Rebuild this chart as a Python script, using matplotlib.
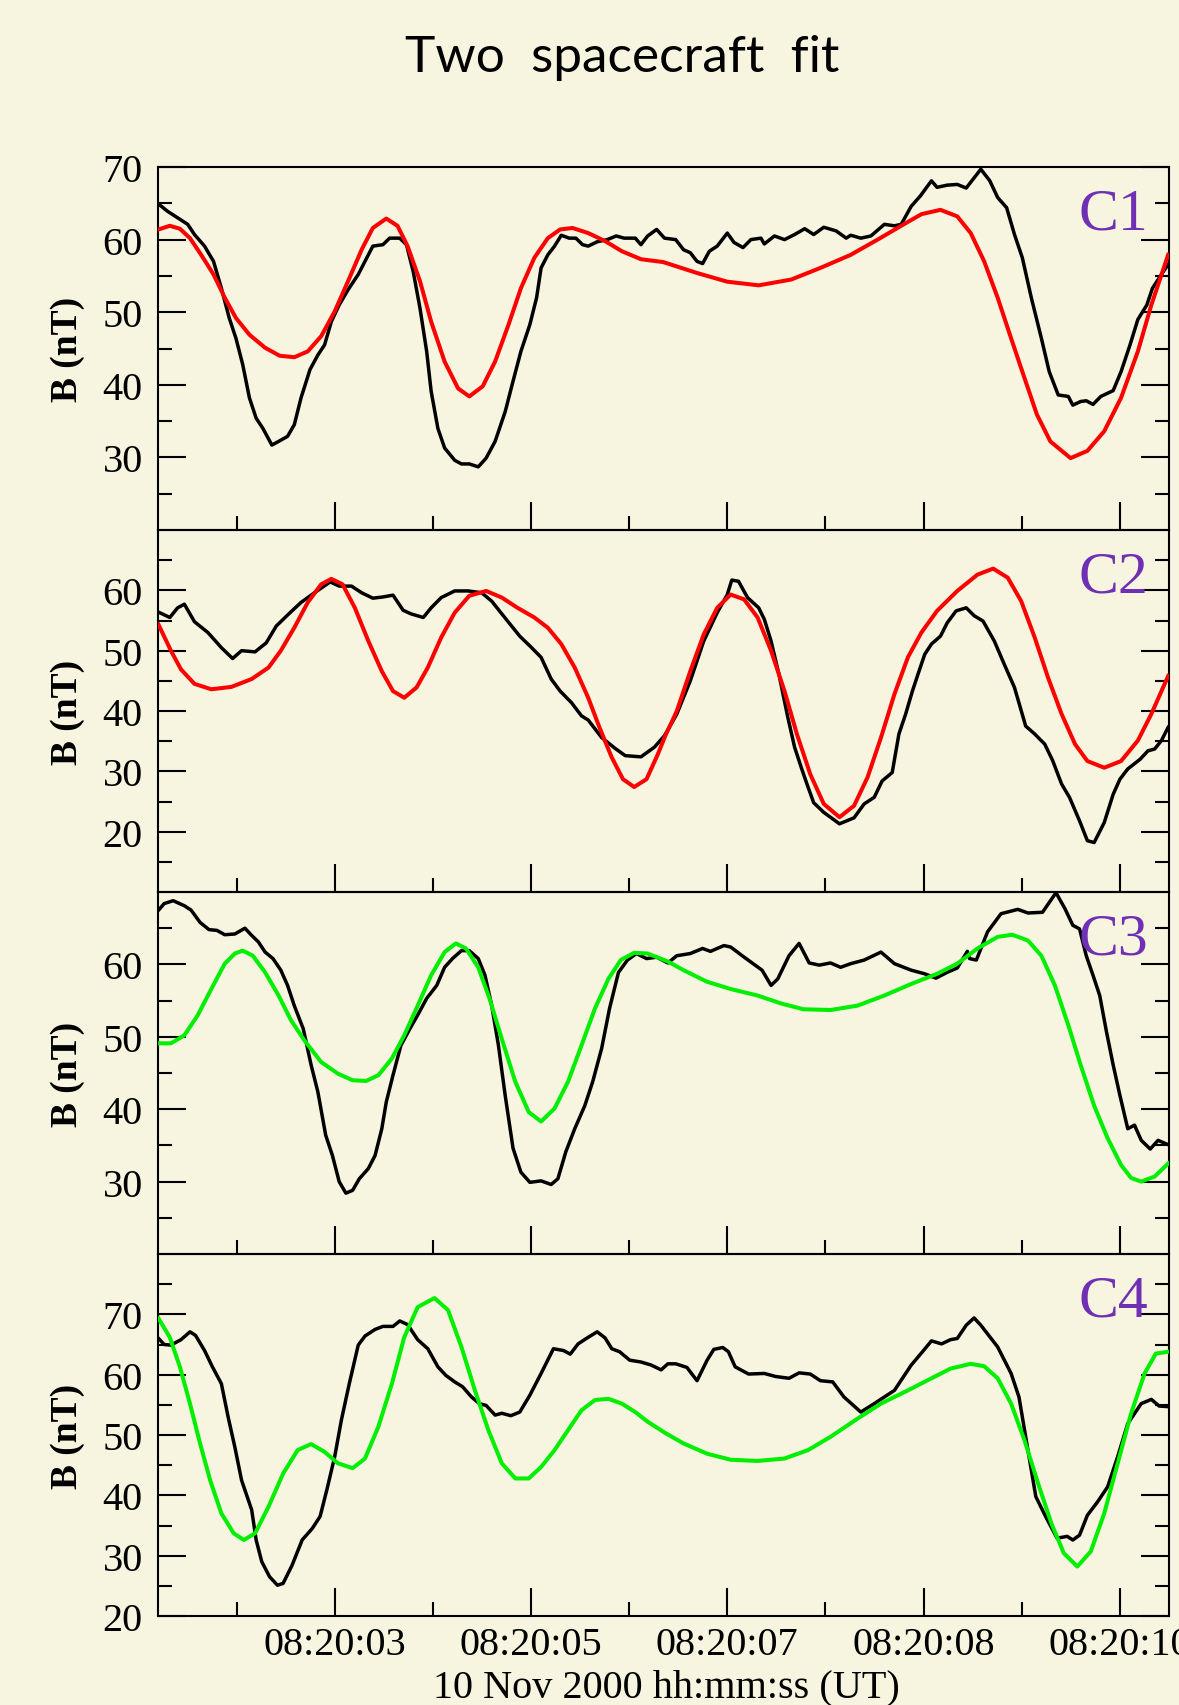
# -*- coding:utf-8 -*-
import numpy as np
import matplotlib
matplotlib.use('Agg')
import matplotlib.pyplot as plt

plt.rcParams['font.family'] = ['Liberation Serif', 'DejaVu Serif']

# 时间轴 (秒, 08:20:xx)
xticks_major = [3.0, 4.75, 6.5, 8.25, 10.0]
xticks_minor = [2.125, 3.875, 5.625, 7.375, 9.125]
xtick_labels = ['08:20:03', '08:20:05', '08:20:07', '08:20:08', '08:20:10']
panel_names = ['C1', 'C2', 'C3', 'C4']

# C1 observed
c1_t = [1.43, 1.51, 1.60, 1.69, 1.75, 1.84, 1.92, 1.99, 2.06, 2.12, 2.18, 2.24, 2.30, 2.36, 2.44, 2.50, 2.58,
        2.64, 2.70, 2.78, 2.85, 2.91, 2.97, 3.04, 3.12, 3.21, 3.28, 3.34, 3.43, 3.49, 3.58, 3.64, 3.70, 3.76,
        3.82, 3.86, 3.92, 3.98, 4.07, 4.13, 4.20, 4.28, 4.35, 4.43, 4.52, 4.59, 4.66, 4.74, 4.80, 4.84, 4.90,
        4.96, 5.02, 5.09, 5.15, 5.21, 5.26, 5.34, 5.43, 5.51, 5.58, 5.68, 5.73, 5.79, 5.87, 5.94,
        6.04, 6.11, 6.17, 6.23, 6.28, 6.34, 6.41, 6.50, 6.56, 6.64, 6.71, 6.80, 6.83, 6.92, 7.01, 7.10, 7.19,
        7.27, 7.36, 7.47, 7.56, 7.60, 7.69, 7.78, 7.90, 7.99, 8.05, 8.14, 8.22, 8.32, 8.37, 8.46, 8.55, 8.63,
        8.76, 8.84, 8.91, 8.99, 9.06, 9.13, 9.21, 9.30, 9.37, 9.45, 9.54, 9.58, 9.65, 9.70, 9.76, 9.83, 9.94,
        10.01, 10.09, 10.16, 10.24, 10.29, 10.37, 10.44]
c1_b = [64.9, 63.9, 63.0, 62.1, 60.7, 59.1, 57.0, 53.3, 49.2, 46.4, 42.8, 38.2, 35.4, 34.0, 31.7, 32.2, 32.9,
        34.5, 38.2, 42.1, 44.1, 45.5, 48.7, 51.0, 53.1, 55.2, 57.3, 59.1, 59.3, 60.2, 60.2, 59.3, 55.6, 50.6,
        44.6, 39.1, 34.0, 31.3, 29.6, 29.1, 29.1, 28.7, 29.9, 32.2, 36.3, 40.5, 44.6, 48.3, 52.0, 56.1, 57.9,
        59.1, 60.6, 60.2, 60.2, 59.3, 59.1, 59.7, 60.0, 60.5, 60.2, 60.2, 59.3, 60.5, 61.4, 60.2,
        60.0, 58.6, 58.2, 57.0, 56.7, 58.4, 59.1, 60.9, 59.6, 58.9, 60.0, 60.2, 59.4, 60.5, 60.0, 60.7, 61.5,
        60.7, 61.7, 61.2, 60.2, 60.6, 60.2, 60.5, 62.1, 61.9, 62.1, 64.6, 66.0, 68.1, 67.2, 67.5, 67.6, 67.1,
        69.7, 68.1, 65.8, 64.4, 60.7, 57.5, 52.0, 46.4, 41.8, 38.6, 38.4, 37.2, 37.7, 37.8, 37.3, 38.4, 39.2,
        41.8, 45.5, 49.0, 51.0, 53.3, 55.2, 56.8]
# C1 fit
c1_ft = [1.43, 1.53, 1.62, 1.71, 1.81, 1.92, 2.02, 2.12, 2.24, 2.38, 2.51, 2.64, 2.76, 2.88, 3.00, 3.12, 3.24,
         3.34, 3.46, 3.56, 3.65, 3.76, 3.86, 3.98, 4.10, 4.20, 4.32, 4.43, 4.55, 4.66, 4.78, 4.90, 5.01, 5.12,
         5.26, 5.41, 5.56, 5.73, 5.93, 6.23, 6.50, 6.78, 7.07, 7.33, 7.60, 7.84, 8.05, 8.23, 8.40, 8.55, 8.67,
         8.79, 8.91, 9.03, 9.15, 9.26, 9.38, 9.56, 9.71, 9.86, 10.01, 10.16, 10.28, 10.43]
c1_fit = [61.4, 61.9, 61.5, 60.2, 57.9, 55.2, 52.0, 49.2, 46.9, 45.1, 44.0, 43.8, 44.6, 46.7, 50.1, 54.3, 58.6,
          61.6, 62.9, 61.9, 59.1, 54.3, 48.7, 43.2, 39.5, 38.4, 39.8, 43.2, 48.3, 53.3, 57.5, 60.2, 61.4, 61.6,
          60.9, 59.8, 58.4, 57.3, 56.9, 55.4, 54.2, 53.7, 54.5, 56.1, 57.9, 60.0, 61.9, 63.5, 64.1, 63.2, 60.9,
          57.0, 52.0, 46.4, 40.9, 35.9, 32.2, 29.9, 30.9, 33.6, 38.2, 44.6, 51.0, 57.9]

# C2 observed
c2_t = [1.44, 1.53, 1.60, 1.66, 1.75, 1.87, 1.99, 2.09, 2.17, 2.29, 2.39, 2.48, 2.58, 2.70, 2.82, 2.96, 3.04,
        3.15, 3.24, 3.34, 3.43, 3.52, 3.61, 3.68, 3.79, 3.86, 3.95, 4.07, 4.19, 4.31, 4.40, 4.52, 4.65, 4.75,
        4.84, 4.93, 5.01, 5.11, 5.20, 5.26, 5.38, 5.50, 5.59, 5.73, 5.85, 5.94, 6.05, 6.17, 6.29, 6.41, 6.50,
        6.54, 6.60, 6.68, 6.78, 6.83, 6.89, 6.96, 7.04, 7.10, 7.16, 7.21, 7.27, 7.36, 7.50, 7.63, 7.72, 7.81,
        7.88, 7.97, 8.03, 8.09, 8.15, 8.20, 8.26, 8.32, 8.40, 8.46, 8.54, 8.63, 8.70, 8.78, 8.88, 8.97, 9.06,
        9.16, 9.24, 9.33, 9.40, 9.48, 9.55, 9.64, 9.71, 9.77, 9.86, 9.94, 10.00, 10.07, 10.18, 10.25, 10.31,
        10.37, 10.43]
c2_b = [56.3, 55.5, 57.1, 57.7, 54.8, 53.0, 50.5, 48.7, 50.0, 49.8, 51.3, 54.1, 55.9, 58.0, 59.6, 61.4, 60.7,
        60.7, 59.6, 58.7, 58.9, 59.2, 56.7, 56.1, 55.5, 57.1, 58.8, 59.9, 59.9, 59.6, 58.2, 55.4, 52.4, 50.6,
        48.9, 45.3, 43.3, 41.4, 39.2, 38.5, 35.6, 33.8, 32.6, 32.4, 34.0, 35.9, 39.5, 45.0, 51.6, 56.3, 59.3,
        61.7, 61.5, 58.8, 57.1, 55.2, 51.6, 46.1, 38.9, 34.0, 30.6, 27.9, 24.8, 23.2, 21.3, 22.3, 24.6, 25.7,
        28.4, 29.8, 36.2, 39.5, 43.3, 46.1, 49.4, 51.1, 52.4, 54.6, 56.6, 57.1, 55.8, 54.9, 51.6, 47.7, 43.9,
        37.5, 36.2, 34.5, 31.8, 27.9, 25.7, 21.8, 18.5, 18.2, 21.5, 26.2, 28.7, 30.4, 32.0, 33.4, 33.7,
        35.1, 37.3]
# C2 fit
c2_ft = [1.43, 1.54, 1.63, 1.75, 1.90, 2.08, 2.26, 2.41, 2.52, 2.64, 2.76, 2.88, 2.97, 3.07, 3.18, 3.30, 3.42,
         3.52, 3.62, 3.73, 3.83, 3.95, 4.07, 4.20, 4.35, 4.49, 4.63, 4.78, 4.90, 5.02, 5.14, 5.26, 5.36, 5.47,
         5.57, 5.67, 5.78, 5.88, 5.95, 6.05, 6.17, 6.29, 6.41, 6.53, 6.65, 6.77, 6.89, 7.01, 7.12, 7.24, 7.36,
         7.50, 7.63, 7.75, 7.87, 7.99, 8.11, 8.23, 8.37, 8.55, 8.73, 8.87, 9.00, 9.12, 9.24, 9.36, 9.48, 9.60,
         9.71, 9.86, 10.01, 10.16, 10.28, 10.43]
c2_fit = [54.3, 50.0, 46.9, 44.5, 43.6, 44.0, 45.3, 47.2, 50.0, 53.8, 58.0, 61.0, 61.9, 61.0, 57.1, 51.6, 46.6,
          43.3, 42.2, 43.9, 47.2, 52.2, 56.3, 59.1, 59.9, 58.8, 57.1, 55.5, 53.8, 51.1, 47.2, 42.2, 37.3, 32.3,
          28.7, 27.4, 28.7, 32.8, 36.0, 40.0, 46.6, 52.7, 57.1, 59.3, 58.5, 55.5, 50.0, 43.3, 36.2, 29.5, 24.6,
          22.4, 24.3, 29.0, 35.6, 42.8, 48.9, 53.0, 56.6, 59.9, 62.6, 63.6, 62.1, 58.2, 52.2, 45.5, 39.5, 34.5,
          31.7, 30.6, 31.7, 35.1, 39.5, 45.8]

# C3 observed
c3_t = [1.43, 1.48, 1.56, 1.66, 1.72, 1.80, 1.88, 1.95, 2.02, 2.11, 2.20, 2.26, 2.32, 2.38, 2.45, 2.52, 2.58,
        2.64, 2.72, 2.79, 2.85, 2.92, 2.98, 3.04, 3.10, 3.16, 3.22, 3.30, 3.36, 3.42, 3.46, 3.52, 3.59, 3.67,
        3.74, 3.82, 3.91, 3.98, 4.05, 4.13, 4.20, 4.28, 4.34, 4.40, 4.46, 4.52, 4.59, 4.66, 4.74, 4.84, 4.93,
        4.99, 5.06, 5.14, 5.23, 5.30, 5.38, 5.45, 5.53, 5.61, 5.69, 5.78, 5.87, 5.97, 6.05, 6.17, 6.28, 6.35,
        6.47, 6.53, 6.65, 6.81, 6.89, 6.95, 7.05, 7.14, 7.23, 7.32, 7.42, 7.51, 7.60, 7.72, 7.87, 7.99, 8.14,
        8.26, 8.36, 8.46, 8.55, 8.64, 8.66, 8.72, 8.82, 8.94, 9.09, 9.18, 9.31, 9.43, 9.51, 9.58, 9.64, 9.70,
        9.76, 9.82, 9.88, 9.94, 10.00, 10.07, 10.13, 10.19, 10.27, 10.34, 10.43]
c3_b = [67.5, 68.4, 68.8, 68.1, 67.5, 65.8, 64.8, 64.7, 64.1, 64.2, 65.0, 64.0, 63.1, 61.7, 60.8, 59.2, 57.1,
        54.3, 51.1, 46.1, 42.4, 36.4, 33.6, 30.0, 28.4, 28.8, 30.4, 31.8, 33.6, 37.3, 41.0, 44.7, 48.8, 51.1,
        53.0, 55.3, 57.1, 59.6, 60.8, 61.9, 61.9, 60.8, 58.5, 54.3, 48.8, 41.9, 34.6, 31.3, 29.9, 30.1, 29.6,
        30.4, 34.1, 37.3, 40.5, 43.8, 48.4, 53.9, 58.9, 60.6, 61.5, 60.8, 61.0, 60.2, 61.2, 61.5, 62.2, 61.8,
        62.6, 62.4, 61.0, 59.2, 57.1, 58.0, 61.2, 62.9, 60.2, 59.9, 60.2, 59.6, 60.1, 60.6, 61.7, 60.1, 59.2,
        58.7, 58.1, 58.9, 59.5, 61.8, 60.8, 60.6, 64.5, 67.0, 67.6, 67.1, 67.2, 69.9, 67.7, 65.4, 64.9, 61.2,
        58.5, 55.7, 50.7, 46.1, 41.9, 37.3, 37.8, 35.7, 34.5, 35.7, 35.1]
# C3 fit
c3_ft = [1.43, 1.54, 1.66, 1.78, 1.90, 2.02, 2.11, 2.18, 2.27, 2.38, 2.50, 2.61, 2.73, 2.88, 3.03, 3.16, 3.28,
         3.39, 3.51, 3.62, 3.74, 3.86, 3.98, 4.08, 4.17, 4.28, 4.38, 4.49, 4.61, 4.73, 4.84, 4.96, 5.08, 5.20,
         5.32, 5.44, 5.55, 5.67, 5.79, 5.97, 6.11, 6.32, 6.53, 6.77, 6.98, 7.18, 7.42, 7.66, 7.90, 8.14, 8.37,
         8.55, 8.73, 8.91, 9.04, 9.18, 9.30, 9.42, 9.54, 9.65, 9.77, 9.89, 10.01, 10.10, 10.19, 10.31, 10.43]
c3_fit = [49.1, 49.1, 50.2, 53.0, 56.6, 60.1, 61.5, 61.9, 61.2, 58.9, 55.7, 52.3, 49.5, 46.5, 44.9, 44.0, 43.9,
          44.7, 47.0, 50.2, 54.3, 58.5, 61.7, 62.9, 62.2, 59.6, 55.3, 49.7, 43.8, 39.6, 38.3, 40.1, 43.8, 48.8,
          53.9, 58.0, 60.6, 61.6, 61.5, 60.4, 59.2, 57.6, 56.6, 55.7, 54.6, 53.8, 53.7, 54.3, 55.7, 57.3, 58.7,
          60.1, 62.2, 63.8, 64.1, 63.3, 61.2, 57.1, 51.6, 46.1, 40.5, 36.0, 32.3, 30.5, 30.0, 30.7, 32.5]

# C4 observed
c4_t = [1.43, 1.48, 1.54, 1.63, 1.71, 1.76, 1.84, 1.91, 1.99, 2.05, 2.11, 2.17, 2.26, 2.30, 2.35, 2.42, 2.49,
        2.54, 2.62, 2.71, 2.80, 2.87, 2.93, 3.00, 3.06, 3.13, 3.21, 3.27, 3.36, 3.43, 3.52, 3.58, 3.65, 3.74,
        3.83, 3.92, 3.99, 4.07, 4.14, 4.22, 4.29, 4.35, 4.43, 4.49, 4.57, 4.65, 4.74, 4.84, 4.95, 5.04, 5.10,
        5.17, 5.26, 5.34, 5.41, 5.47, 5.54, 5.63, 5.73, 5.82, 5.91, 5.97, 6.04, 6.14, 6.23, 6.32, 6.38, 6.46,
        6.51, 6.57, 6.69, 6.83, 6.93, 7.05, 7.14, 7.24, 7.33, 7.44, 7.54, 7.69, 7.81, 7.99, 8.14, 8.24, 8.32,
        8.41, 8.49, 8.55, 8.63, 8.70, 8.76, 8.91, 9.03, 9.10, 9.16, 9.25, 9.34, 9.44, 9.53, 9.58, 9.64, 9.71,
        9.80, 9.89, 9.98, 10.07, 10.19, 10.28, 10.35, 10.43]
c4_b = [66.0, 65.0, 64.9, 65.8, 67.1, 66.5, 64.0, 61.3, 58.5, 53.0, 48.0, 42.5, 37.6, 32.6, 29.0, 26.5, 25.1,
        25.4, 28.4, 32.6, 34.5, 36.5, 40.9, 46.4, 52.5, 58.5, 64.9, 66.4, 67.5, 68.0, 68.0, 68.9, 68.3, 65.8,
        64.3, 61.3, 59.9, 58.8, 58.0, 56.3, 55.2, 54.9, 53.3, 53.6, 53.2, 53.8, 56.6, 60.2, 64.3, 64.0, 63.4,
        65.1, 66.2, 67.1, 66.1, 64.3, 63.8, 62.4, 62.1, 61.6, 60.8, 61.8, 61.8, 61.2, 59.0, 62.4, 64.2, 64.5,
        63.8, 61.3, 60.1, 60.2, 59.7, 59.4, 60.3, 60.1, 59.0, 58.8, 56.3, 53.8, 55.2, 57.4, 61.6, 63.8, 65.6,
        65.1, 65.8, 66.0, 68.2, 69.4, 68.2, 64.6, 60.2, 56.3, 49.7, 39.8, 36.4, 32.9, 33.2, 32.6, 33.4, 36.7,
        38.9, 41.4, 46.4, 51.9, 55.2, 55.9, 54.8, 54.7]
# C4 fit
c4_ft = [1.43, 1.53, 1.62, 1.71, 1.80, 1.89, 1.99, 2.10, 2.19, 2.29, 2.41, 2.54, 2.67, 2.79, 2.91, 3.03, 3.16,
         3.27, 3.39, 3.51, 3.62, 3.74, 3.89, 4.01, 4.13, 4.25, 4.37, 4.49, 4.61, 4.73, 4.84, 4.96, 5.08, 5.20,
         5.32, 5.44, 5.56, 5.68, 5.79, 5.95, 6.11, 6.32, 6.53, 6.77, 7.01, 7.22, 7.42, 7.66, 7.87, 8.11, 8.32,
         8.49, 8.67, 8.79, 8.91, 9.03, 9.15, 9.27, 9.39, 9.50, 9.62, 9.74, 9.86, 9.98, 10.10, 10.22, 10.32, 10.43]
c4_fit = [69.3, 66.2, 61.3, 55.2, 48.6, 42.5, 37.0, 33.7, 32.6, 33.7, 38.1, 43.6, 47.5, 48.5, 47.2, 45.3, 44.5,
          46.1, 51.4, 58.5, 66.2, 71.2, 72.7, 70.7, 64.6, 57.4, 50.8, 45.3, 42.8, 42.8, 44.7, 47.5, 50.8, 54.1,
          55.8, 56.0, 55.2, 53.8, 52.2, 50.3, 48.6, 46.9, 45.9, 45.7, 46.1, 47.5, 49.7, 52.7, 55.2, 57.4, 59.4,
          61.0, 61.8, 61.4, 59.4, 55.2, 49.1, 42.0, 35.3, 30.4, 28.2, 30.7, 37.0, 45.3, 53.6, 60.2, 63.5, 63.8]

obs = [(c1_t, c1_b), (c2_t, c2_b), (c3_t, c3_b), (c4_t, c4_b)]
fits = [(c1_ft, c1_fit), (c2_ft, c2_fit), (c3_ft, c3_fit), (c4_ft, c4_fit)]
fit_colors = ['#ff0000', '#ff0000', '#00ee00', '#00ee00']
ylims = [(20, 70), (10, 70), (20, 70), (20, 80)]
yticks_major = [[30, 40, 50, 60, 70], [20, 30, 40, 50, 60], [30, 40, 50, 60], [20, 30, 40, 50, 60, 70]]
yticks_minor = [[25, 35, 45, 55, 65], [15, 25, 35, 45, 55, 65], [25, 35, 45, 55, 65],
                [25, 35, 45, 55, 65, 75]]

bg = '#f7f5df'
fig = plt.figure(figsize=(11.79, 17.06), dpi=100, facecolor=bg)

W, H = 1179.0, 1706.0
left = 158 / W
width = (1169 - 158) / W
tops = [168, 531, 893, 1255, 1617]

for i in range(4):
    bottom = 1 - tops[i + 1] / H
    height = (tops[i + 1] - tops[i]) / H
    ax = fig.add_axes([left, bottom, width, height])
    ax.set_facecolor('none')
    t, b = obs[i]
    ft, fv = fits[i]
    ax.plot(t, b, color='black', linewidth=2.5, zorder=3)
    ax.plot(ft, fv, color=fit_colors[i], linewidth=2.9, zorder=4)
    ax.set_xlim(1.425, 10.4375)
    ax.set_ylim(*ylims[i])
    ax.set_xticks(xticks_major)
    ax.set_xticks(xticks_minor, minor=True)
    ax.set_yticks(yticks_major[i])
    ax.set_yticks(yticks_minor[i], minor=True)
    if i == 3:
        ax.set_xticklabels(xtick_labels)
    else:
        ax.set_xticklabels([])
    ax.tick_params(which='both', direction='in', top=False, bottom=True, left=True, right=True,
                   width=1.5, labelsize=29)
    ax.tick_params(which='major', length=20)
    ax.tick_params(which='minor', length=10)
    ax.tick_params(axis='y', pad=11)
    ax.tick_params(axis='x', pad=7)
    for s in ax.spines.values():
        s.set_linewidth(1.5)
    ax.set_ylabel('B (nT)', fontsize=27, fontweight='bold')
    ax.yaxis.set_label_coords(-0.072, 0.5)
    ax.text(0.979, 0.83, panel_names[i], transform=ax.transAxes, ha='right', va='baseline',
            fontsize=43, color='#7030b4', zorder=5)

fig.text(0.528, 1 - 72 / H, 'Two  spacecraft  fit', ha='center', va='baseline',
         fontsize=37, family='Lato')
fig.text(666 / W, 1 - 1697 / H, '10 Nov 2000 hh:mm:ss (UT)', ha='center', va='baseline', fontsize=29)

fig.savefig('out.png', dpi=100, facecolor=bg)
